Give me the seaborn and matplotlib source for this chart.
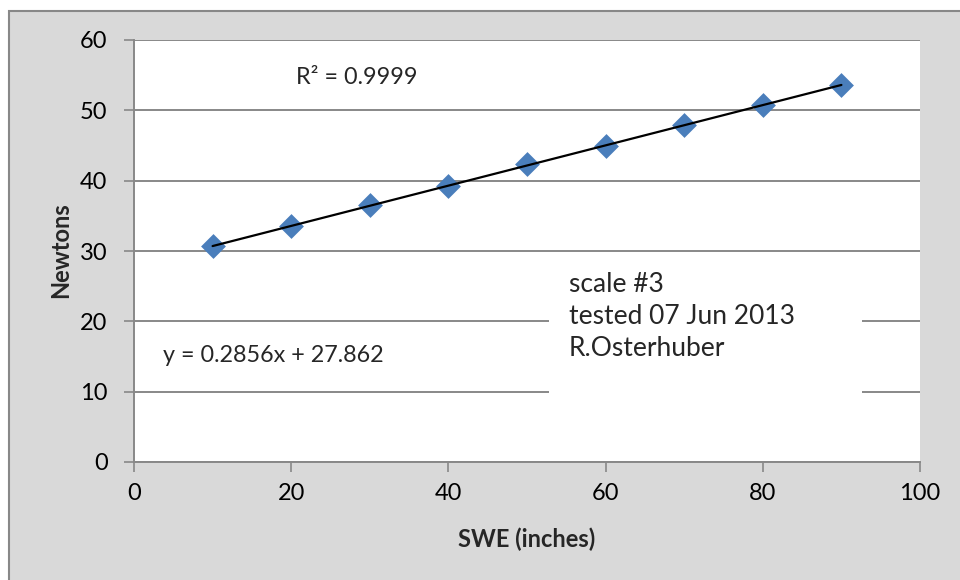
import numpy as np
import seaborn as sns
import matplotlib.pyplot as plt
from matplotlib.patches import Rectangle

# data
swe = [10, 20, 30, 40, 50, 60, 70, 80, 90]
newtons = [30.7, 33.5, 36.5, 39.2, 42.3, 45.0, 47.9, 50.7, 53.6]

eq_label = "y = 0.2856x + 27.862"
r2_label = "R² = 0.9999"
note = "scale #3\ntested 07 Jun 2013\nR.Osterhuber"

sns.set_style("white")
plt.rcParams["font.family"] = ["Lato", "DejaVu Sans"]

grid_col = "#888888"

fig = plt.figure(figsize=(9.6, 5.8), dpi=100, facecolor="white")

# chart area background with border
fig.patches.append(Rectangle((8.5 / 960, -0.1), 1.2, (580 - 10.5) / 580 + 0.1,
                             transform=fig.transFigure, facecolor="#D9D9D9",
                             edgecolor=grid_col, lw=1.5, zorder=-5))

ax = fig.add_axes([134 / 960, 1 - 462 / 580, 786 / 960, 422 / 580])
ax.set_zorder(2)
ax.set_facecolor("white")

sns.regplot(x=swe, y=newtons, ax=ax, ci=None, marker="D",
            scatter_kws=dict(s=160, color="#4A7EBB", alpha=1, linewidths=0, zorder=3),
            line_kws=dict(color="black", lw=1.6, zorder=4))

ax.set_xlim(0, 100)
ax.set_ylim(0, 60)
ax.set_xticks(range(0, 101, 20))
ax.set_yticks(range(0, 61, 10))

ax.set_axisbelow(True)
ax.yaxis.grid(True, color=grid_col, lw=1.4)
ax.xaxis.grid(False)
for s in ["top", "right"]:
    ax.spines[s].set_visible(False)
for s in ["left", "bottom"]:
    ax.spines[s].set_color(grid_col)
    ax.spines[s].set_linewidth(1.4)

ax.tick_params(axis="both", which="both", direction="out", length=7, width=1.2,
               color=grid_col, labelsize=17, labelcolor="black")
ax.tick_params(axis="y", pad=12, left=True)
ax.tick_params(axis="x", pad=8, bottom=True)

ax.set_xlabel("SWE (inches)", fontsize=17, fontweight="bold")
ax.set_ylabel("Newtons", fontsize=17, fontweight="bold")
ax.xaxis.set_label_coords(0.5, -0.155)
ax.yaxis.set_label_coords(-0.079, 0.502)

# white box behind the note
ax.add_patch(Rectangle((0.528, 0.15), 0.398, 0.335, transform=ax.transAxes,
                       facecolor="white", edgecolor="none", zorder=1))
ax.text(0.553, (462 - 317) / 422, note, transform=ax.transAxes, fontsize=19,
        va="center", ha="left", linespacing=1.35, zorder=5)

ax.text((163 - 134) / 786, (462 - 355) / 422, eq_label, transform=ax.transAxes,
        fontsize=16.8, va="center", ha="left", zorder=5)
ax.text((296 - 134) / 786, (462 - 78) / 422, r2_label, transform=ax.transAxes,
        fontsize=16.8, va="center", ha="left", zorder=5)

fig.savefig("out.png", dpi=100, facecolor="white")
